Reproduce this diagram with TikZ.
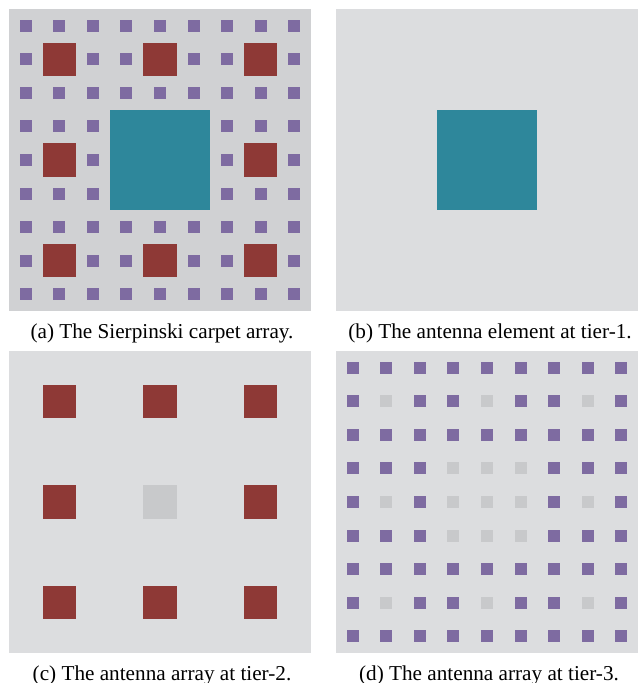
\documentclass[tikz,border=0pt]{standalone}
\usepackage{fontspec}
\setmainfont{Liberation Serif}
\definecolor{carpetgray}{HTML}{D0D1D3}
\definecolor{panelgray}{HTML}{DCDDDF}
\definecolor{holegray}{HTML}{C8C9CB}
\definecolor{patchpurple}{HTML}{7E6BA1}
\definecolor{patchred}{HTML}{8E3936}
\definecolor{patchteal}{HTML}{2E879B}

\begin{document}
\begin{tikzpicture}[x=0.5pt,y=-0.5pt,
  caption/.style={font=\fontsize{10.6}{12}\selectfont,anchor=base,inner sep=0pt}]

\useasboundingbox (0,0) rectangle (638,683);
\def\csz{33.5556}
\def\half{6}

% (a) full carpet
\begin{scope}[shift={(9,9)}]
  \fill[carpetgray] (0,0) rectangle ++(302,302);
  \foreach \r in {0,...,8}{
    \foreach \c in {0,...,8}{
      \pgfmathtruncatemacro{\hole}{((mod(\r,3)==1 && mod(\c,3)==1) || (int(\r/3)==1 && int(\c/3)==1)) ? 1 : 0}
      \ifnum\hole=0
        \fill[patchpurple] (\c*\csz+\csz/2-\half,\r*\csz+\csz/2-\half) rectangle ++(12,12);
      \fi
    }
  }
  \foreach \r in {0,1,2}{
    \foreach \c in {0,1,2}{
      \pgfmathtruncatemacro{\mid}{(\r==1 && \c==1) ? 1 : 0}
      \ifnum\mid=0
        \fill[patchred] (3*\c*\csz+\csz,3*\r*\csz+\csz) rectangle ++(\csz,\csz);
      \fi
    }
  }
  \fill[patchteal] (3*\csz,3*\csz) rectangle ++(3*\csz,3*\csz);
\end{scope}

% (b) tier-1
\begin{scope}[shift={(336,9)}]
  \fill[panelgray] (0,0) rectangle ++(302,302);
  \fill[patchteal] (3*\csz,3*\csz) rectangle ++(3*\csz,3*\csz);
\end{scope}

% (c) tier-2
\begin{scope}[shift={(9,351)}]
  \fill[panelgray] (0,0) rectangle ++(302,302);
  \foreach \r in {0,1,2}{
    \foreach \c in {0,1,2}{
      \pgfmathtruncatemacro{\mid}{(\r==1 && \c==1) ? 1 : 0}
      \ifnum\mid=0
        \fill[patchred] (3*\c*\csz+\csz,3*\r*\csz+\csz) rectangle ++(\csz,\csz);
      \else
        \fill[holegray] (3*\c*\csz+\csz,3*\r*\csz+\csz) rectangle ++(\csz,\csz);
      \fi
    }
  }
\end{scope}

% (d) tier-3
\begin{scope}[shift={(336,351)}]
  \fill[panelgray] (0,0) rectangle ++(302,302);
  \foreach \r in {0,...,8}{
    \foreach \c in {0,...,8}{
      \pgfmathtruncatemacro{\hole}{((mod(\r,3)==1 && mod(\c,3)==1) || (int(\r/3)==1 && int(\c/3)==1)) ? 1 : 0}
      \ifnum\hole=0
        \fill[patchpurple] (\c*\csz+\csz/2-\half,\r*\csz+\csz/2-\half) rectangle ++(12,12);
      \else
        \fill[holegray] (\c*\csz+\csz/2-\half,\r*\csz+\csz/2-\half) rectangle ++(12,12);
      \fi
    }
  }
\end{scope}

\node[caption] (capa) at (162,338) {(a) The Sierpinski carpet array.};
\node[caption] (capb) at (490,338) {(b) The antenna element at tier-1.};
\node[caption] (capc) at (162,680) {(c) The antenna array at tier-2.};
\node[caption] (capd) at (489,680) {(d) The antenna array at tier-3.};

\end{tikzpicture}
\end{document}
